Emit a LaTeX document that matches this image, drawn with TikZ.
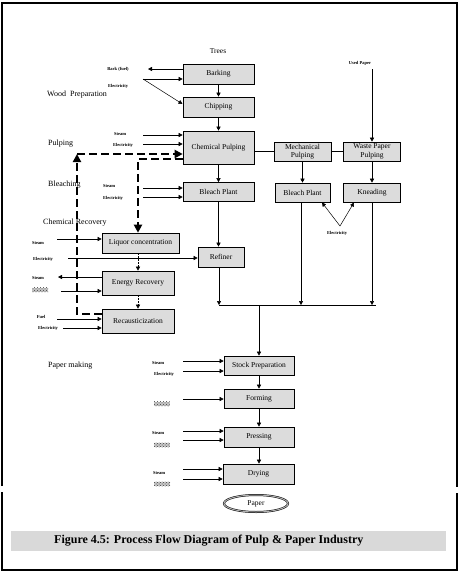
\documentclass[tikz,border=0pt]{standalone}
\usepackage{fontspec}
\setmainfont{Liberation Serif}
\usetikzlibrary{arrows.meta,patterns,shapes.geometric}
\definecolor{boxgray}{HTML}{DCDCDC}
\definecolor{bargray}{HTML}{D9D9D9}
\begin{document}
\begin{tikzpicture}[x=1pt,y=-1pt,
  box/.style={draw, fill=boxgray, inner sep=0pt, line width=0.6pt, align=center,
    font=\fontsize{7.5}{8.5}\selectfont},
  lab/.style={inner sep=0pt, font=\fontsize{4.5}{5}\selectfont\bfseries},
  sec/.style={inner sep=0pt, anchor=west, font=\fontsize{8}{9}\selectfont},
  arr/.style={-{Triangle[length=4pt,width=4pt]}, line width=0.5pt},
  ln/.style={line width=0.5pt},
  dsh/.style={line width=2.4pt, dash pattern=on 8pt off 4pt},
  dsharr/.style={dsh, -{Triangle[length=8pt,width=8pt]}},
  dotarr/.style={line width=0.5pt, dash pattern=on 1.5pt off 1.5pt, -{Triangle[length=4pt,width=4pt]}},
  hatch/.style={inner sep=0pt, minimum width=16pt, minimum height=4.5pt,
    preaction={fill=gray!45}, pattern=crosshatch dots, pattern color=black!75}
]
\useasboundingbox (0,0) rectangle (467,574);
% frame
\draw[line width=1.2pt] (2,486) -- (2,3) -- (457,3) -- (457,487);
\draw[line width=1.2pt] (2,492) -- (2,570) -- (457,570) -- (457,493);

% section labels
\node[sec] (swood) at (47,95) {Wood\ \ Preparation};
\node[sec] (spulp) at (48,144) {Pulping};
\node[sec] (sbleach) at (48,185) {Bleaching};
\node[sec] (schem) at (43,223) {Chemical Recovery};
\node[sec] (spaper) at (48,366) {Paper making};

% top labels
\node[inner sep=0pt, font=\fontsize{7.5}{8}\selectfont] (trees) at (218,51) {Trees};
\node[lab] (used) at (360,63) {Used Paper};

% boxes
\node[box, minimum width=71pt, minimum height=20pt] (bark) at (218.5,74) {Barking};
\node[box, minimum width=71pt, minimum height=20pt] (chip) at (218.5,107) {Chipping};
\node[box, minimum width=71pt, minimum height=33pt] (chem) at (218.5,147.5) {Chemical Pulping};
\node[box, minimum width=57pt, minimum height=19pt] (mech) at (302.5,151.5) {Mechanical\\Pulping};
\node[box, minimum width=57pt, minimum height=19pt] (waste) at (372,151.5) {Waste Paper\\Pulping};
\node[box, minimum width=71pt, minimum height=19pt] (bp1) at (218.5,192) {Bleach Plant};
\node[box, minimum width=55pt, minimum height=19pt] (bp2) at (302.5,192.5) {Bleach Plant};
\node[box, minimum width=57pt, minimum height=19pt] (knead) at (372,192.5) {Kneading};
\node[box, minimum width=77pt, minimum height=20pt] (liq) at (140.5,243) {Liquor concentration};
\node[box, minimum width=46pt, minimum height=20pt] (refiner) at (221,257) {Refiner};
\node[box, minimum width=72pt, minimum height=24pt] (energy) at (138,283) {Energy Recovery};
\node[box, minimum width=72pt, minimum height=24pt] (recaust) at (138,321) {Recausticization};
\node[box, minimum width=70pt, minimum height=19pt] (stock) at (259,365.5) {Stock Preparation};
\node[box, minimum width=70pt, minimum height=19pt] (forming) at (259,398.5) {Forming};
\node[box, minimum width=70pt, minimum height=20pt] (pressing) at (259,437) {Pressing};
\node[box, minimum width=71pt, minimum height=20pt] (drying) at (258.5,474) {Drying};
\node[ellipse, draw=black, double=gray!60, double distance=1pt, line width=0.5pt, fill=white,
  minimum width=64pt, minimum height=17pt, inner sep=0pt, font=\fontsize{7.5}{8}\selectfont] (paper) at (256,503.5) {Paper};

% main flow
\draw[arr] (bark) -- (chip);
\draw[arr] (chip) -- (chem);
\draw[arr] (chem) -- (bp1);
\draw[arr] (bp1.south) -- (bp1.south |- refiner.north);
\coordinate (c1) at (219,305);
\coordinate (c2) at (301,305);
\coordinate (c3) at (376,305);
\coordinate (cm) at (259,305);
\draw[arr] (refiner.south -| c1) -- (c1);
\draw[arr] (bp2.south -| c2) -- (c2);
\draw[arr] (knead.south) -- (knead.south |- c1);
\draw[ln] (c1) -- (c3);
\draw[arr] (cm) -- (stock.north);
\draw[arr] (stock) -- (forming);
\draw[arr] (forming) -- (pressing);
\draw[arr] (pressing) -- (drying.north -| pressing);
\draw[ln] (chem.east |- mech.west) -- (mech.west);
\draw[ln] (mech.east) -- (waste.west);
\draw[arr] (mech.south) -- (bp2.north -| mech.south);
\draw[arr] (waste) -- (knead);
\coordinate (u1) at (372,69);
\draw[arr] (u1) -- (waste.north);

% wood preparation inputs
\node[lab] (lbark) at (118,69) {Bark (fuel)};
\coordinate (b1) at (148,69);
\draw[arr] (bark.west |- b1) -- (b1);
\node[lab] (le1) at (118,86) {Electricity};
\coordinate (e1) at (143,79);
\draw[arr] (e1) -- (e1 -| bark.west);
\draw[arr] (e1) -- (182.5,104);

% pulping inputs
\node[lab] (ls2) at (120,134.5) {Steam};
\coordinate (s2) at (143,135);
\draw[arr] (s2) -- (s2 -| chem.west);
\node[lab] (le2) at (123,145) {Electricity};
\coordinate (e2) at (143,144);
\draw[arr] (e2) -- (e2 -| chem.west);

% bleaching inputs
\node[lab] (ls3) at (109,186) {Steam};
\coordinate (s3) at (143,188);
\draw[arr] (s3) -- (s3 -| bp1.west);
\node[lab] (le3) at (113,198) {Electricity};
\coordinate (e3) at (143,197);
\draw[arr] (e3) -- (e3 -| bp1.west);

% electricity V
\node[lab] (le4) at (337,233) {Electricity};
\coordinate (v) at (340,226);
\draw[arr] (v) -- (322,202.5);
\draw[arr] (v) -- (354,202.5);

% chemical recovery inputs
\node[lab] (ls5) at (38,243) {Steam};
\coordinate (s5) at (57,239);
\draw[arr] (s5) -- (s5 -| liq.west);
\node[lab] (le5) at (43,259) {Electricity};
\coordinate (e5) at (68,258);
\draw[arr] (e5) -- (e5 -| refiner.west);
\node[lab] (ls6) at (38,278) {Steam};
\coordinate (s6) at (58,277);
\draw[arr] (energy.west |- s6) -- (s6);
\node[hatch] (h6) at (40,290) {};
\coordinate (f6) at (61,291);
\draw[arr] (f6) -- (f6 -| energy.west);
\node[lab] (lf7) at (41,317) {Fuel};
\coordinate (f7) at (57,319);
\draw[arr] (f7) -- (f7 -| recaust.west);
\node[lab] (le7) at (48,328) {Electricity};
\coordinate (e7) at (63,328);
\draw[arr] (e7) -- (e7 -| recaust.west);

% dotted flows
\draw[dotarr] (liq.south -| energy.north) -- (energy.north);
\draw[dotarr] (energy.south) -- (recaust.north);

% thick dashed flows
\coordinate (da) at (77,154);
\coordinate (db) at (77,314);
\draw[dsharr] (recaust.west |- db) -- (db) -- (da);
\draw[dsharr] (da) -- (da -| chem.west);
\coordinate (dc) at (138,159);
\draw[dsharr] (chem.west |- dc) -- (dc) -- (dc |- liq.north);

% paper making inputs
\node[lab] (ls8) at (158,363) {Steam};
\coordinate (s8) at (183,361);
\draw[arr] (s8) -- (s8 -| stock.west);
\node[lab] (le8) at (164,374) {Electricity};
\coordinate (e8) at (183,371);
\draw[arr] (e8) -- (e8 -| stock.west);
\node[hatch] (h9) at (161.5,404) {};
\coordinate (f9) at (183,399);
\draw[arr] (f9) -- (f9 -| forming.west);
\node[lab] (ls10) at (158,433.5) {Steam};
\coordinate (s10) at (183,431);
\draw[arr] (s10) -- (s10 -| pressing.west);
\node[hatch] (h10) at (161.5,445) {};
\coordinate (f10) at (183,440);
\draw[arr] (f10) -- (f10 -| pressing.west);
\node[lab] (ls11) at (159,473) {Steam};
\coordinate (s11) at (183,469);
\draw[arr] (s11) -- (s11 -| drying.west);
\node[hatch] (h11) at (162,484) {};
\coordinate (f11) at (183,479);
\draw[arr] (f11) -- (f11 -| drying.west);

% caption
\node[fill=bargray, minimum width=435pt, minimum height=20pt, inner sep=0pt] (capbar) at (228.5,541) {};
\node[anchor=west, inner sep=0pt, font=\fontsize{12}{13}\selectfont\bfseries] (cap) at (54,541) {Figure 4.5: Process Flow Diagram of Pulp \& Paper Industry};
\end{tikzpicture}
\end{document}
